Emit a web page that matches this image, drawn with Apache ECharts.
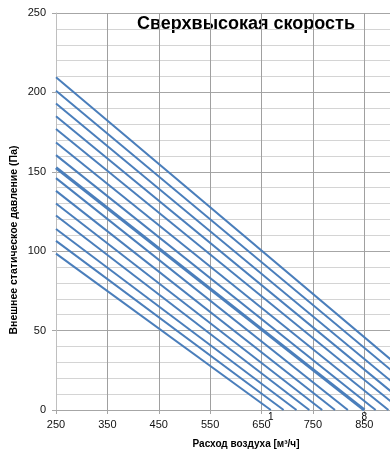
<!DOCTYPE html>
<html>
<head>
<meta charset="utf-8">
<script src="https://cdn.jsdelivr.net/npm/echarts@6/dist/echarts.min.js"></script>
<style>
html,body{margin:0;padding:0;background:#fff;}
#chart{width:390px;height:449px;}
</style>
</head>
<body>
<div id="chart"></div>
<script>
// Series numbering (bottom to top)
const seriesNames = ['1','2','3','4','5','6','7','8','9','10','11','12','13','14','15'];
// Each curve starts at 250 m3/h
const startFlow = 250;
// Pressure (Pa) at 250 m3/h
const startPressure = [98.5, 106.5, 114, 122.5, 130, 138, 146, 152.5, 160.5, 168.5, 177, 185, 193, 201, 209.5];
// Flow (m3/h) where pressure reaches 0
const zeroFlow = [668, 693, 718, 743, 768, 793, 818, 850, 872, 897, 922, 946, 970, 995, 1018];
// Which series carry a text label at their end
const labelledSeries = ['1', '8'];
const highlightSeries = '8';
const xTicks = [250, 350, 450, 550, 650, 750, 850];
const yTicks = [0, 50, 100, 150, 200, 250];

const FONT = 'Liberation Sans';
const blue = '#4a7ebb';

const series = seriesNames.map((name, i) => {
  const endPoint = { value: [zeroFlow[i], 0] };
  if (labelledSeries.includes(name)) {
    endPoint.label = {
      show: true, position: 'bottom', distance: 2,
      formatter: name, fontSize: 10, color: '#000', fontFamily: FONT
    };
  }
  return {
    name: name,
    type: 'line',
    data: [[startFlow, startPressure[i]], endPoint],
    symbol: 'circle',
    symbolSize: 0,
    showSymbol: true,
    lineStyle: { color: blue, width: name === highlightSeries ? 3.2 : 2 },
    itemStyle: { color: blue },
    clip: true,
    silent: true,
    animation: false
  };
});

const chart = echarts.init(document.getElementById('chart'), null, { renderer: 'canvas' });
chart.setOption({
  animation: false,
  backgroundColor: '#fff',
  grid: { left: 56, right: -2, top: 13, bottom: 39, containLabel: false },
  xAxis: {
    type: 'value',
    min: xTicks[0], max: 900, interval: 100,
    axisLine: { show: true, lineStyle: { color: '#a6a6a6', width: 1 } },
    axisTick: { show: true, length: 4, lineStyle: { color: '#a6a6a6' } },
    axisLabel: { margin: 9, fontSize: 11, color: '#111', fontFamily: FONT, showMaxLabel: false },
    splitLine: { show: true, lineStyle: { color: '#a0a0a0', width: 1 } }
  },
  yAxis: {
    type: 'value',
    min: yTicks[0], max: yTicks[yTicks.length - 1], interval: 50,
    axisLine: { show: true, lineStyle: { color: '#bfbfbf', width: 1 } },
    axisTick: { show: true, length: 4, lineStyle: { color: '#a6a6a6' } },
    axisLabel: { margin: 10, fontSize: 11, color: '#111', fontFamily: FONT },
    splitLine: { show: true, lineStyle: { color: '#a6a6a6', width: 1 } },
    minorTick: { show: false, splitNumber: 5 },
    minorSplitLine: { show: true, lineStyle: { color: '#d4d4d4', width: 1 } }
  },
  graphic: [
    { type: 'text', x: 246, y: 24, style: { text: 'Сверхвысокая скорость', font: 'bold 18px "' + FONT + '"', fill: '#000', align: 'center', verticalAlign: 'middle' } },
    { type: 'text', x: 246, y: 444, style: { text: 'Расход воздуха [м³/ч]', font: 'bold 10px "' + FONT + '"', fill: '#000', align: 'center', verticalAlign: 'middle' } },
    { type: 'text', x: 14, y: 240, rotation: Math.PI / 2, style: { text: 'Внешнее статическое давление (Па)', font: 'bold 10.5px "' + FONT + '"', fill: '#000', align: 'center', verticalAlign: 'middle' } }
  ],
  series: series
});
</script>
</body>
</html>
